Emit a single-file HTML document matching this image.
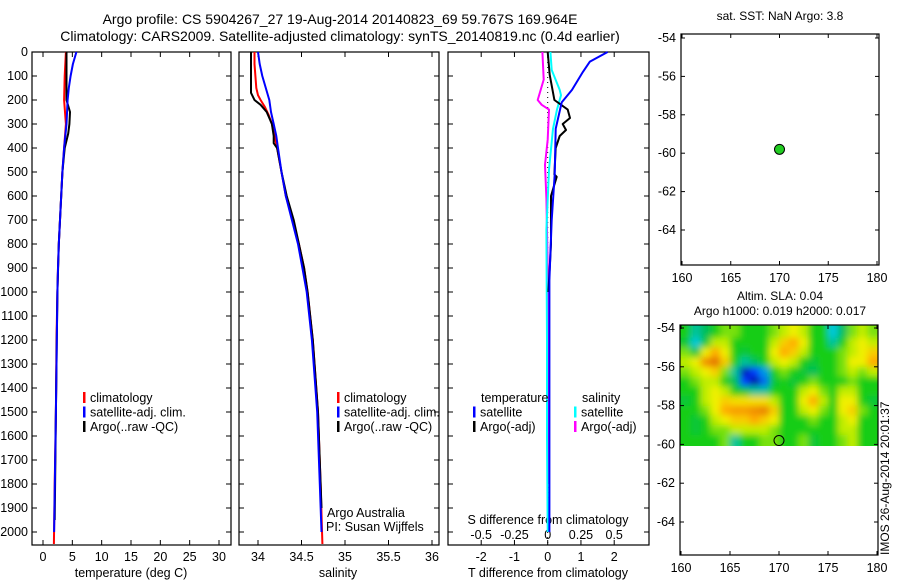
<!DOCTYPE html>
<html><head><meta charset="utf-8"><style>
body{margin:0;background:#fff;}
svg{display:block;font-family:"Liberation Sans",sans-serif;}
text{font-size:12.5px;fill:#000;}
</style></head><body>
<svg id="chart" width="900" height="580" viewBox="0 0 900 580" xmlns="http://www.w3.org/2000/svg">
<defs>
<filter id="blur" x="-5%" y="-5%" width="110%" height="110%"><feGaussianBlur stdDeviation="3.5"/></filter>
<clipPath id="hmclip"><rect x="680" y="325" width="198" height="121"/></clipPath>
</defs>
<text x="340" y="24" text-anchor="middle" style="font-size:14px">Argo profile: CS 5904267_27 19-Aug-2014 20140823_69 59.767S 169.964E</text>
<text x="340" y="41" text-anchor="middle" style="font-size:14px">Climatology: CARS2009. Satellite-adjusted climatology: synTS_20140819.nc (0.4d earlier)</text>
<g id="g1"></g>
<g id="g2"></g>
<g id="g3"></g>
<g id="g4"></g>
<g id="g5"></g>
<text transform="translate(889,555) rotate(-90)" style="font-size:12px">IMOS 26-Aug-2014 20:01:37</text>
</svg>
<script>
// ---- data ----
const depthTicks=[0,100,200,300,400,500,600,700,800,900,1000,1100,1200,1300,1400,1500,1600,1700,1800,1900,2000];
const tempTicks=[0,5,10,15,20,25,30];
const salTicks=[34,34.5,35,35.5,36];
const salTickLabels=["34","34.5","35","35.5","36"];
const tdTicks=[-2,-1,0,1,2];
const sdTicks=[-0.5,-0.25,0,0.25,0.5];
const sdTickLabels=["-0.5","-0.25","0","0.25","0.5"];

const tClimDepth=[0,100,200,300,400,500,600,700,800,900,1000,1200,1500,1800,2050];
const tClimVal=[3.9,3.7,3.6,3.9,3.6,3.3,3.1,2.9,2.7,2.55,2.45,2.3,2.2,2.0,1.85];
const tSatDepth=[0,50,100,150,200,300,400,500,600,700,800,900,1000,1500,2000];
const tSatVal=[5.7,5.1,4.7,4.4,4.2,4.0,3.6,3.3,3.1,2.9,2.7,2.55,2.45,2.2,1.9];
const tArgoDepth=[0,50,100,200,250,300,340,400,500,600,700,800,1000,1500,1950];
const tArgoVal=[4.0,4.0,4.0,4.0,4.6,4.5,4.3,3.7,3.3,3.1,2.9,2.7,2.45,2.2,2.0];

const sClimDepth=[0,50,100,150,180,200,230,260,300,400,500,600,700,800,900,1000,1200,1500,1800,2050];
const sClimVal=[33.96,33.96,33.97,33.98,34.0,34.03,34.08,34.12,34.16,34.22,34.27,34.32,34.40,34.47,34.53,34.57,34.63,34.69,34.72,34.74];
const sSatDepth=[0,50,100,150,200,250,300,350,400,500,600,700,800,900,1000,1200,1500,1800,2000];
const sSatVal=[34.0,34.02,34.05,34.09,34.13,34.15,34.18,34.21,34.23,34.27,34.32,34.39,34.46,34.51,34.56,34.62,34.68,34.71,34.73];
const sArgoDepth=[0,100,170,200,220,250,300,350,380,400,500,600,700,800,900,1000,1200,1500,1900];
const sArgoVal=[33.92,33.92,33.92,33.96,34.03,34.10,34.16,34.18,34.18,34.22,34.27,34.33,34.41,34.47,34.53,34.57,34.63,34.69,34.73];

const tdSatDepth=[0,40,83,158,210,320,510,700,950,1200,1600,2000];
const tdSatVal=[1.8,1.27,1.06,0.73,0.42,0.24,0.21,0.12,0.05,0.05,0.05,0.05];
const tdArgoDepth=[0,95,200,240,275,300,325,350,400,510,520,600,800,1000];
const tdArgoVal=[0,0.06,0.2,0.6,0.67,0.45,0.55,0.36,0.24,0.2,0.27,0.1,0.1,0.02];
const sdSatDepth=[0,75,158,180,240,320,490,740,1200,1600,2000];
const sdSatVal=[0.02,0.03,0.09,0.1,0.07,0.04,0.01,-0.01,-0.005,-0.005,0];
const sdArgoDepth=[0,115,200,220,240,365,470,610,900,1400,1800];
const sdArgoVal=[-0.04,-0.03,-0.075,-0.045,0.01,0,-0.02,-0.01,0,0,0];

const argoLon=[170];
const argoLat=[-59.8];
const mapLonTicks=[160,165,170,175,180];
const mapLatTicks=[-54,-56,-58,-60,-62,-64];
const slaLons=[160,161,162,163,164,165,166,167,168,169,170,171,172,173,174,175,176,177,178,179];
const slaLats=[-54,-54.5,-55,-55.5,-56,-56.5,-57,-57.5,-58,-58.5,-59,-59.5];
const slaGrid=[
[0,-0.3,-0.2,0,0.1,0.1,0,0,0,0.1,0.2,0.3,0.2,0,0,-0.4,-0.2,0.1,0.2,0.1],
[-0.1,-0.4,-0.1,0.2,0.2,0,0,0,0,0.2,0.4,0.5,0.3,0,0,-0.3,0,0.2,0.3,0.2],
[0.1,-0.1,0.3,0.5,0.3,0,-0.1,0,0,0.3,0.5,0.4,0.2,0,0,0,0.1,0.2,0.3,0.4],
[0.2,0.3,0.6,0.7,0.4,0,-0.3,-0.2,0,0.2,0.3,0.2,0,-0.1,0,0,0.1,0.3,0.3,0.5],
[0.1,0.2,0.3,0.4,0.1,-0.3,-0.9,-0.7,-0.5,0,0.1,0,-0.1,-0.2,0,0,0.1,0.2,0.1,0.2],
[0,0.1,0.2,0.2,0,-0.2,-0.7,-0.95,-0.6,-0.1,0,-0.1,0,0.1,0,0,0,0.1,0,0],
[0,0,0.2,0.3,0.2,0,-0.1,-0.3,-0.3,0,0,0,0.2,0.3,0.1,0,0.2,0.2,0,0],
[-0.1,0,0.2,0.3,0.4,0.35,0.35,0.35,0.35,0.2,0,0,0.3,0.5,0.2,0,0.3,0.3,0,-0.1],
[0,0,0.1,0.3,0.5,0.55,0.55,0.6,0.65,0.4,0,0,0.2,0.3,0.1,0,0.3,0.4,0.1,0],
[0,-0.1,0,0.2,0.3,0.4,0.4,0.5,0.4,0.3,0,0,0,0.1,0,0,0.2,0.3,0,0],
[0,-0.1,0,0.1,0.1,0.2,0.2,0.2,0.2,0.1,0,0,0,0,0,0,0.2,0.2,0,0],
[0,0,0,0,0.1,-0.3,0,0,0.1,0.1,0,0,0.1,-0.1,0,0,0.1,0.2,0,0]];

// ---- helpers ----
const NS="http://www.w3.org/2000/svg";
function mk(parent,tag,attrs,txt){const e=document.createElementNS(NS,tag);for(const k in attrs)e.setAttribute(k,attrs[k]);if(txt!==undefined)e.textContent=txt;parent.appendChild(e);return e;}
const Y0=52,YB=545;
const yD=d=>Y0+(d-0)*(532-52)/2000;

function frame(g,x0,x1,y0,y1){
  const r=mk(g,'rect',{x:x0,y:y0,width:x1-x0,height:y1-y0,fill:'none',stroke:'#000','stroke-width':1.2});
  
  
}
function depthTicksDraw(g,x0,x1,labels){
  depthTicks.forEach(d=>{const y=yD(d);
    mk(g,'line',{x1:x0,x2:x0+5,y1:y,y2:y,stroke:'#000'});
    mk(g,'line',{x1:x1,x2:x1-5,y1:y,y2:y,stroke:'#000'});
    if(labels){const t=mk(g,'text',{x:x0-4,y:y+4,'text-anchor':'end'},String(d));
      
      }
  });
}
function line(g,xs,ds,xf,col,name,w){
  const pts=xs.map((v,i)=>xf(v).toFixed(1)+','+yD(ds[i]).toFixed(1)).join(' ');
  const p=mk(g,'polyline',{points:pts,fill:'none',stroke:col,'stroke-width':w||2,'stroke-linejoin':'round'});
  
  
}
function legend(g,x,y,entries){
  entries.forEach((e,i)=>{
    const r=mk(g,'rect',{x:x,y:y+i*14.5-10,width:2.5,height:11,fill:e[0]});
    
    
    const t=mk(g,'text',{x:x+7,y:y+i*14.5},e[1]);
    
    
  });
}

// ---- panel 1: temperature ----
const g1=document.getElementById('g1');
const xT=v=>43+v*(219-43)/30;
frame(g1,32,231,Y0,YB);depthTicksDraw(g1,32,231,true);
tempTicks.forEach(v=>{const x=xT(v);mk(g1,'line',{x1:x,x2:x,y1:YB,y2:YB-5,stroke:'#000'});mk(g1,'line',{x1:x,x2:x,y1:Y0,y2:Y0+5,stroke:'#000'});
  const t=mk(g1,'text',{x:x,y:561,'text-anchor':'middle'},String(v));
  
  });
const tl1=mk(g1,'text',{x:131,y:577,'text-anchor':'middle'},'temperature (deg C)');


line(g1,tClimVal,tClimDepth,xT,'#f00','temperature-climatology-line');
line(g1,tArgoVal,tArgoDepth,xT,'#000','temperature-argo-line');
line(g1,tSatVal,tSatDepth,xT,'#00f','temperature-satellite-line');
legend(g1,83,402,[['#f00','climatology'],['#00f','satellite-adj. clim.'],['#000','Argo(..raw -QC)']]);

// ---- panel 2: salinity ----
const g2=document.getElementById('g2');
const xS=v=>258+(v-34)*(432-258)/2;
frame(g2,239,439,Y0,YB);depthTicksDraw(g2,239,439,false);
salTicks.forEach((v,i)=>{const x=xS(v);mk(g2,'line',{x1:x,x2:x,y1:YB,y2:YB-5,stroke:'#000'});mk(g2,'line',{x1:x,x2:x,y1:Y0,y2:Y0+5,stroke:'#000'});
  const t=mk(g2,'text',{x:x,y:561,'text-anchor':'middle'},salTickLabels[i]);
  
  });
const tl2=mk(g2,'text',{x:338,y:577,'text-anchor':'middle'},'salinity');


line(g2,sClimVal,sClimDepth,xS,'#f00','salinity-climatology-line');
line(g2,sArgoVal,sArgoDepth,xS,'#000','salinity-argo-line');
line(g2,sSatVal,sSatDepth,xS,'#00f','salinity-satellite-line');
legend(g2,337,402,[['#f00','climatology'],['#00f','satellite-adj. clim.'],['#000','Argo(..raw -QC)']]);
const a1=mk(g2,'text',{x:327,y:517},'Argo Australia');


const a2=mk(g2,'text',{x:326,y:531},'PI: Susan Wijffels');



// ---- panel 3: differences ----
const g3=document.getElementById('g3');
const xTD=v=>547.7+v*33.25;
const xSD=v=>547.7+v*133;
frame(g3,448,649,Y0,YB);depthTicksDraw(g3,448,649,false);
mk(g3,'line',{x1:xTD(0),x2:xTD(0),y1:Y0,y2:YB,stroke:'#000','stroke-dasharray':'1,4'});
tdTicks.forEach(v=>{const x=xTD(v);mk(g3,'line',{x1:x,x2:x,y1:YB,y2:YB-5,stroke:'#000'});mk(g3,'line',{x1:x,x2:x,y1:Y0,y2:Y0+5,stroke:'#000'});
  const t=mk(g3,'text',{x:x,y:561,'text-anchor':'middle'},String(v));
  
  });
sdTicks.forEach((v,i)=>{const t=mk(g3,'text',{x:xSD(v),y:539,'text-anchor':'middle'},sdTickLabels[i]);
  
  });
const st=mk(g3,'text',{x:548,y:524,'text-anchor':'middle'},'S difference from climatology');


const tt=mk(g3,'text',{x:548,y:577,'text-anchor':'middle'},'T difference from climatology');


line(g3,sdArgoVal,sdArgoDepth,xSD,'#f0f','salinity-argo-diff-line');
line(g3,sdSatVal,sdSatDepth,xSD,'#0ff','salinity-satellite-diff-line');
line(g3,tdArgoVal,tdArgoDepth,xTD,'#000','temperature-argo-diff-line');
line(g3,tdSatVal,tdSatDepth,xTD,'#00f','temperature-satellite-diff-line');
const lt=mk(g3,'text',{x:481,y:402},'temperature');


const ls=mk(g3,'text',{x:582,y:402},'salinity');


legend(g3,473,416.5,[['#00f','satellite'],['#000','Argo(-adj)']]);
legend(g3,574,416.5,[['#0ff','satellite'],['#f0f','Argo(-adj)']]);

// ---- maps ----
function mapAxes(g,x0,x1,y0,y1,lonx,laty,labY){
  frame(g,x0,x1,y0,y1);
  mapLonTicks.forEach(v=>{const x=lonx(v);mk(g,'line',{x1:x,x2:x,y1:y1,y2:y1-4,stroke:'#000'});mk(g,'line',{x1:x,x2:x,y1:y0,y2:y0+4,stroke:'#000'});
    const t=mk(g,'text',{x:x,y:labY,'text-anchor':'middle'},String(v));
    
    });
  mapLatTicks.forEach(v=>{const y=laty(v);mk(g,'line',{x1:x0,x2:x0+4,y1:y,y2:y,stroke:'#000'});mk(g,'line',{x1:x1,x2:x1-4,y1:y,y2:y,stroke:'#000'});
    const t=mk(g,'text',{x:x0-5,y:y+4,'text-anchor':'end'},String(v));
    
    });
}
const g4=document.getElementById('g4');
const lon1=v=>682+(v-160)*(877-682)/20, lat1=v=>38+(-54-v)*19.2;
mapAxes(g4,681,879,34,265,lon1,lat1,282);
const m1t=mk(g4,'text',{x:780,y:20,'text-anchor':'middle','style':'font-size:12px'},'sat. SST: NaN Argo: 3.8');


argoLon.forEach((v,i)=>{const c=mk(g4,'circle',{cx:lon1(v),cy:lat1(argoLat[i]),r:5,fill:'#2c2',stroke:'#000','stroke-width':1});
  
  });

const g5=document.getElementById('g5');
const lon2=v=>681+(v-160)*(877-681)/20, lat2=v=>328+(-54-v)*19.4;
const m2a=mk(g5,'text',{x:780,y:300,'text-anchor':'middle','style':'font-size:12px'},'Altim. SLA: 0.04');


const m2b=mk(g5,'text',{x:780,y:315,'text-anchor':'middle','style':'font-size:12px'},'Argo h1000: 0.019 h2000: 0.017');


function cmap(v){
  const stops=[[-1,[0,0,150]],[-0.7,[0,60,255]],[-0.4,[0,200,220]],[-0.2,[0,190,90]],[0,[20,205,20]],[0.15,[170,235,0]],[0.3,[240,240,0]],[0.5,[255,170,0]],[0.75,[220,100,0]],[1,[160,30,0]]];
  v=Math.max(-1,Math.min(1,v));
  for(let i=1;i<stops.length;i++){if(v<=stops[i][0]){const a=stops[i-1],b=stops[i],f=(v-a[0])/(b[0]-a[0]);
    return 'rgb('+a[1].map((c,k)=>Math.round(c+(b[1][k]-c)*f)).join(',')+')';}}
  return 'rgb(160,30,0)';
}
const hmc=mk(g5,'g',{'clip-path':'url(#hmclip)'});


const hm=mk(hmc,'g',{filter:'url(#blur)'});


const nr=slaGrid.length;
slaGrid.forEach((row,r)=>row.forEach((v,c)=>{
  let x=lon2(slaLons[c]), xe=lon2(slaLons[c]+1);
  let yt=lat2(slaLats[r]), yb=lat2(slaLats[r]-0.5);
  if(c===0)x-=12; if(c===row.length-1)xe+=12;
  if(r===0)yt-=14; if(r===nr-1)yb+=12;
  const cell=mk(hm,'rect',{x:x,y:yt,width:xe-x+0.5,height:yb-yt+0.5,fill:cmap(v)});
  
  
}));
mapAxes(g5,680,878,325,555,lon2,lat2,572);
argoLon.forEach((v,i)=>{const c=mk(g5,'circle',{cx:lon2(v),cy:lat2(argoLat[i]),r:5,fill:'none',stroke:'#000','stroke-width':1});
  
  });
</script>
</body></html>
